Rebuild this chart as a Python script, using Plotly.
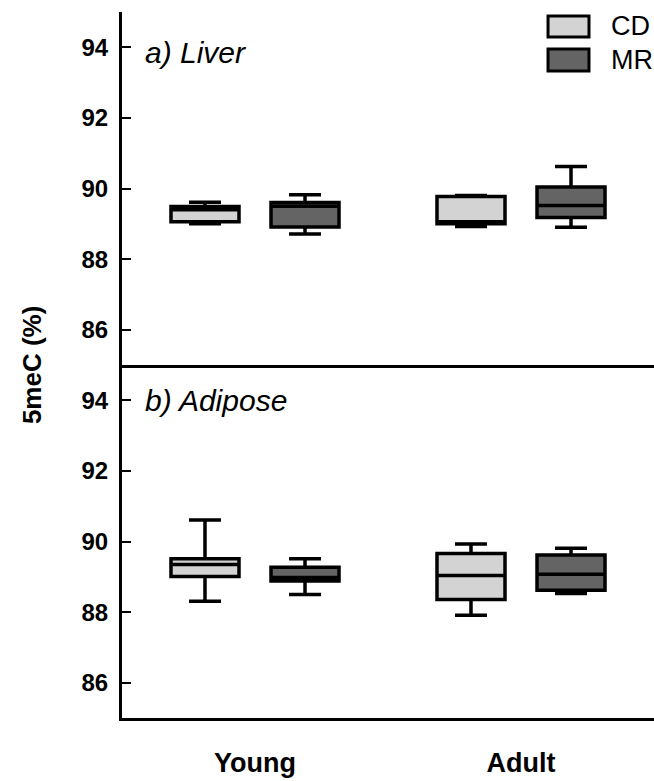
import plotly.graph_objects as go

categories = ["Young", "Adult"]
groups = ["CD", "MR"]

# Liver (panel a)
liver_cd_q1 = [89.06, 89.00]
liver_cd_med = [89.40, 89.06]
liver_cd_q3 = [89.49, 89.77]
liver_cd_lo = [89.00, 88.92]
liver_cd_hi = [89.61, 89.80]

liver_mr_q1 = [88.91, 89.18]
liver_mr_med = [89.50, 89.52]
liver_mr_q3 = [89.60, 90.04]
liver_mr_lo = [88.71, 88.90]
liver_mr_hi = [89.82, 90.62]

# Adipose (panel b)
adip_cd_q1 = [89.01, 88.36]
adip_cd_med = [89.35, 89.04]
adip_cd_q3 = [89.51, 89.66]
adip_cd_lo = [88.31, 87.91]
adip_cd_hi = [90.61, 89.93]

adip_mr_q1 = [88.88, 88.62]
adip_mr_med = [88.98, 89.07]
adip_mr_q3 = [89.27, 89.62]
adip_mr_lo = [88.50, 88.53]
adip_mr_hi = [89.51, 89.81]

y_ticks = [86, 88, 90, 92, 94]

CD_FILL = "#d3d3d3"
MR_FILL = "#646464"
FONT = "Liberation Sans, Arial, sans-serif"

fig = go.Figure()


def add_box(name, fill, q1, med, q3, lo, hi, xa, ya):
    fig.add_trace(go.Box(
        name=name, x=categories, q1=q1, median=med, q3=q3,
        lowerfence=lo, upperfence=hi, offsetgroup=name,
        fillcolor=fill, line=dict(color="black", width=3.5),
        whiskerwidth=0.47, boxpoints=False, showlegend=False,
        xaxis=xa, yaxis=ya, hoverinfo="skip"))


add_box("CD", CD_FILL, liver_cd_q1, liver_cd_med, liver_cd_q3, liver_cd_lo, liver_cd_hi, "x2", "y2")
add_box("MR", MR_FILL, liver_mr_q1, liver_mr_med, liver_mr_q3, liver_mr_lo, liver_mr_hi, "x2", "y2")
add_box("CD", CD_FILL, adip_cd_q1, adip_cd_med, adip_cd_q3, adip_cd_lo, adip_cd_hi, "x", "y")
add_box("MR", MR_FILL, adip_mr_q1, adip_mr_med, adip_mr_q3, adip_mr_lo, adip_mr_hi, "x", "y")

yax = dict(range=[85, 95], tickvals=y_ticks, ticks="inside", ticklen=9,
           tickwidth=2, tickcolor="black", showline=True, linewidth=3,
           linecolor="black", showgrid=False, zeroline=False,
           tickfont=dict(family=FONT, size=24, color="black", weight="bold"),
           ticklabelstandoff=6)

fig.update_layout(
    width=654, height=781,
    margin=dict(l=122, r=0, t=12, b=63),
    paper_bgcolor="white", plot_bgcolor="white",
    boxmode="group", boxgap=0.248, boxgroupgap=0.32,
    xaxis=dict(domain=[0, 1], anchor="y", categoryorder="array",
               categoryarray=categories, showline=True, linewidth=3,
               linecolor="black", ticks="", showgrid=False,
               tickfont=dict(family=FONT, size=27, color="black", weight="bold"),
               ticklabelstandoff=19),
    xaxis2=dict(domain=[0, 1], anchor="y2", matches="x", categoryorder="array",
                categoryarray=categories, showline=True, linewidth=3,
                linecolor="black", ticks="", showticklabels=False, showgrid=False),
    yaxis=dict(domain=[0, 0.5], anchor="x", **yax),
    yaxis2=dict(domain=[0.5, 1], anchor="x2", **yax),
    showlegend=False,
)

# panel labels
fig.add_annotation(text="<i>a) Liver</i>", x=0.040, y=0.943, xref="paper", yref="paper",
                   xanchor="left", yanchor="middle", showarrow=False,
                   font=dict(family=FONT, size=30, color="black"))
fig.add_annotation(text="<i>b) Adipose</i>", x=0.040, y=0.4504, xref="paper", yref="paper",
                   xanchor="left", yanchor="middle", showarrow=False,
                   font=dict(family=FONT, size=30, color="black"))

# y title
fig.add_annotation(text="<b>5meC (%)</b>", x=-0.169, y=0.5, xref="paper", yref="paper",
                   xanchor="center", yanchor="middle", textangle=-90, showarrow=False,
                   font=dict(family=FONT, size=26, color="black"))

# legend (drawn manually)
leg = [("CD", CD_FILL, 0.9943, 0.9646, 0.9795), ("MR", MR_FILL, 0.9476, 0.9164, 0.932)]
for name, fill, y1, y0, yc in leg:
    fig.add_shape(type="rect", xref="paper", yref="paper", x0=0.8008, x1=0.8778,
                  y0=y0, y1=y1, fillcolor=fill, line=dict(color="black", width=3))
    fig.add_annotation(text=name, x=0.9154, y=yc, xref="paper", yref="paper",
                       xanchor="left", yanchor="middle", showarrow=False,
                       font=dict(family=FONT, size=27, color="black"))

fig.write_html("out.html", config={"displayModeBar": False},
               post_script="document.body.style.margin='0';")
